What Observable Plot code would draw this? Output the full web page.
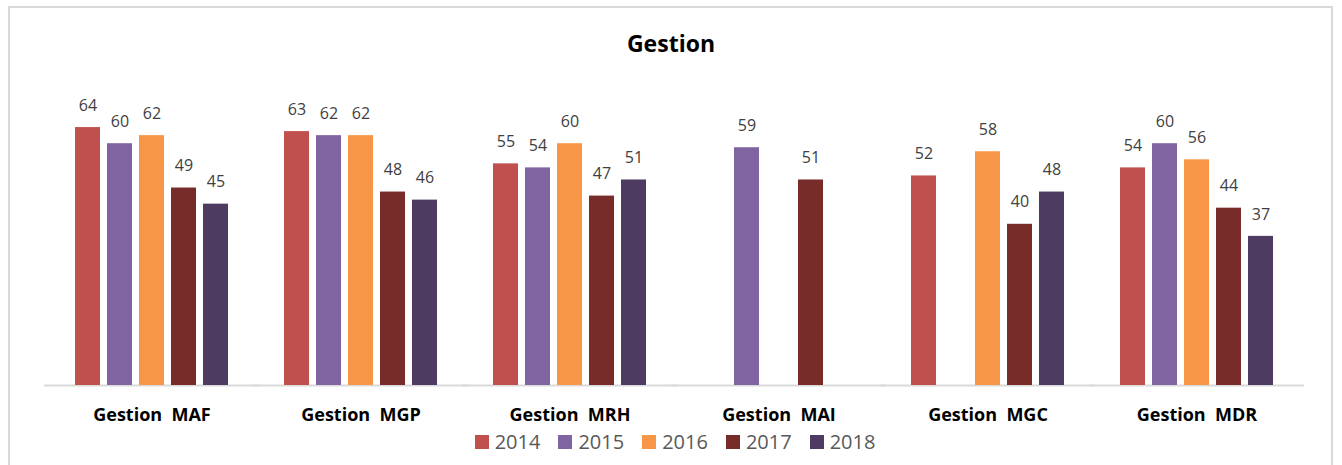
<!DOCTYPE html>
<html>
<head>
<meta charset="utf-8">
<script src="https://cdn.jsdelivr.net/npm/d3@7"></script>
<script src="https://cdn.jsdelivr.net/npm/@observablehq/plot@0.6"></script>
<style>
  html, body { margin: 0; padding: 0; background: #fff; }
  body { width: 1342px; height: 465px; overflow: hidden; position: relative; font-family: "Open Sans", sans-serif; }
  #frame { position: absolute; left: 8px; top: 6px; width: 1325px; height: 470px; border: 2px solid #d9d9d9; box-sizing: border-box; }
  #title { position: absolute; left: 0; width: 1342px; top: 27px; text-align: center; font-size: 23px; font-weight: bold; color: #000; }
  #chart { position: absolute; left: 0; top: 70px; }
  #legend { position: absolute; left: 0; width: 1350px; top: 428px; display: flex; justify-content: center; gap: 18px; font-size: 20px; color: #595959; }
  .item { display: flex; align-items: center; gap: 6px; }
  .sw { width: 14px; height: 14px; display: inline-block; }
</style>
</head>
<body>
<div id="frame"></div>
<div id="title">Gestion</div>
<div id="chart"></div>
<div id="legend"></div>
<script>
const categories = ["Gestion  MAF", "Gestion  MGP", "Gestion  MRH", "Gestion  MAI", "Gestion  MGC", "Gestion  MDR"];
const years = ["2014", "2015", "2016", "2017", "2018"];
const colors = ["#C0504D", "#8064A2", "#F79646", "#772C2A", "#4D3B62"];
const v2014 = [64, 63, 55, null, 52, 54];
const v2015 = [60, 62, 54, 59, null, 60];
const v2016 = [62, 62, 60, null, 58, 56];
const v2017 = [49, 48, 47, 51, 40, 44];
const v2018 = [45, 46, 51, null, 48, 37];

const series = [v2014, v2015, v2016, v2017, v2018];
const data = [];
categories.forEach((c, i) => {
  years.forEach((y, j) => {
    const v = series[j][i];
    if (v != null) data.push({cat: c, year: y, value: v});
  });
});

const plot = Plot.plot({
  width: 1342,
  height: 355,
  marginLeft: 45,
  marginRight: 40,
  marginTop: 20,
  marginBottom: 40,
  style: {fontFamily: "Open Sans, sans-serif", background: "transparent"},
  fx: {domain: categories, paddingInner: 0.268, paddingOuter: 0.141, label: null},
  x: {domain: years, axis: null, paddingInner: 0.22, paddingOuter: 0},
  y: {domain: [0, 73.2], axis: null},
  color: {domain: years, range: colors},
  marks: [
    Plot.ruleY([0], {stroke: "#d9d9d9", strokeWidth: 2, insetLeft: -31, insetRight: -31}),
    Plot.barY(data, {fx: "cat", x: "year", y: "value", fill: "year"}),
    Plot.text(data, {fx: "cat", x: "year", y: "value", text: d => String(d.value), dy: -22, fill: "#404040", fontSize: 16}),
    Plot.axisFx({anchor: "bottom", tickSize: 0, tickPadding: 23, fontSize: 18, fontWeight: "bold", fill: "#000", label: null})
  ]
});
plot.querySelectorAll("text").forEach(e => { e.style.whiteSpace = "pre"; });
document.getElementById("chart").appendChild(plot);

const legend = document.getElementById("legend");
years.forEach((y, i) => {
  const it = document.createElement("div");
  it.className = "item";
  const sw = document.createElement("span");
  sw.className = "sw";
  sw.style.background = colors[i];
  const t = document.createElement("span");
  t.textContent = y;
  it.appendChild(sw); it.appendChild(t);
  legend.appendChild(it);
});
</script>
</body>
</html>
